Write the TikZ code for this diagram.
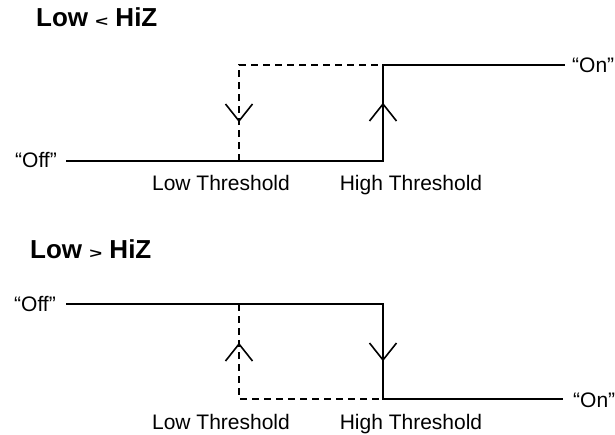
\documentclass[tikz,border=0pt]{standalone}
\usepackage{fontspec}
\setmainfont{Liberation Sans}
\usetikzlibrary{calc}
\begin{document}
\begin{tikzpicture}[x=1pt,y=-1pt,
  lbl/.style={inner sep=0pt,font=\fontsize{21}{21}\selectfont},
  ttl/.style={inner sep=0pt,anchor=base west,font=\fontsize{26}{26}\selectfont\bfseries},
  solidline/.style={line width=2pt},
  dashline/.style={line width=2pt,dash pattern=on 7pt off 5pt},
  vtip/.style={line width=1.6pt}]
\useasboundingbox (0,0) rectangle (615,434);
\newcommand{\smallrel}[1]{{\fontsize{22}{22}\selectfont\scalebox{1}[0.65]{#1}}}
% ---------- top panel ----------
\node[ttl] (t1) at (36,26.7) {Low \smallrel{<} HiZ};
\node[lbl,anchor=base east] (off1) at (57,167) {“Off”};
\node[lbl,anchor=base west] (on1) at (572,72) {“On”};
\node[lbl,anchor=base] (lt1) at (221,190) {Low Threshold};
\node[lbl,anchor=base] (ht1) at (411,190) {High Threshold};
\coordinate (a1) at (66,161);
\coordinate (l1b) at (239,161);
\coordinate (h1b) at (383,161);
\coordinate (l1t) at (239,65);
\coordinate (h1t) at (383,65);
\coordinate (e1) at (565,65);
\draw[solidline] (a1) -- (h1b) -- (h1t) -- (e1);
\draw[dashline] (l1b) -- (l1t) -- (h1t);
% down arrow on dashed, up arrow on solid
\coordinate (d1tip) at (239,121);
\coordinate (u1tip) at (383,104);
\draw[vtip] ($(d1tip)+(-13.5,-17)$) -- (d1tip) -- ($(d1tip)+(13.5,-17)$);
\draw[vtip] ($(u1tip)+(-13.5,17)$) -- (u1tip) -- ($(u1tip)+(13.5,17)$);
% ---------- bottom panel ----------
\node[ttl] (t2) at (30,258) {Low \smallrel{>} HiZ};
\node[lbl,anchor=base east] (off2) at (56,311) {“Off”};
\node[lbl,anchor=base west] (on2) at (573,407) {“On”};
\node[lbl,anchor=base] (lt2) at (221,429) {Low Threshold};
\node[lbl,anchor=base] (ht2) at (411,429) {High Threshold};
\coordinate (a2) at (66,304);
\coordinate (l2t) at (239,304);
\coordinate (h2t) at (383,304);
\coordinate (l2b) at (239,399);
\coordinate (h2b) at (383,399);
\coordinate (e2) at (563,399);
\draw[solidline] (a2) -- (h2t) -- (h2b) -- (e2);
\draw[dashline] (l2t) -- (l2b) -- (h2b);
\coordinate (u2tip) at (239,344);
\coordinate (d2tip) at (383,360);
\draw[vtip] ($(u2tip)+(-13.5,17)$) -- (u2tip) -- ($(u2tip)+(13.5,17)$);
\draw[vtip] ($(d2tip)+(-13.5,-17)$) -- (d2tip) -- ($(d2tip)+(13.5,-17)$);
\end{tikzpicture}
\end{document}
